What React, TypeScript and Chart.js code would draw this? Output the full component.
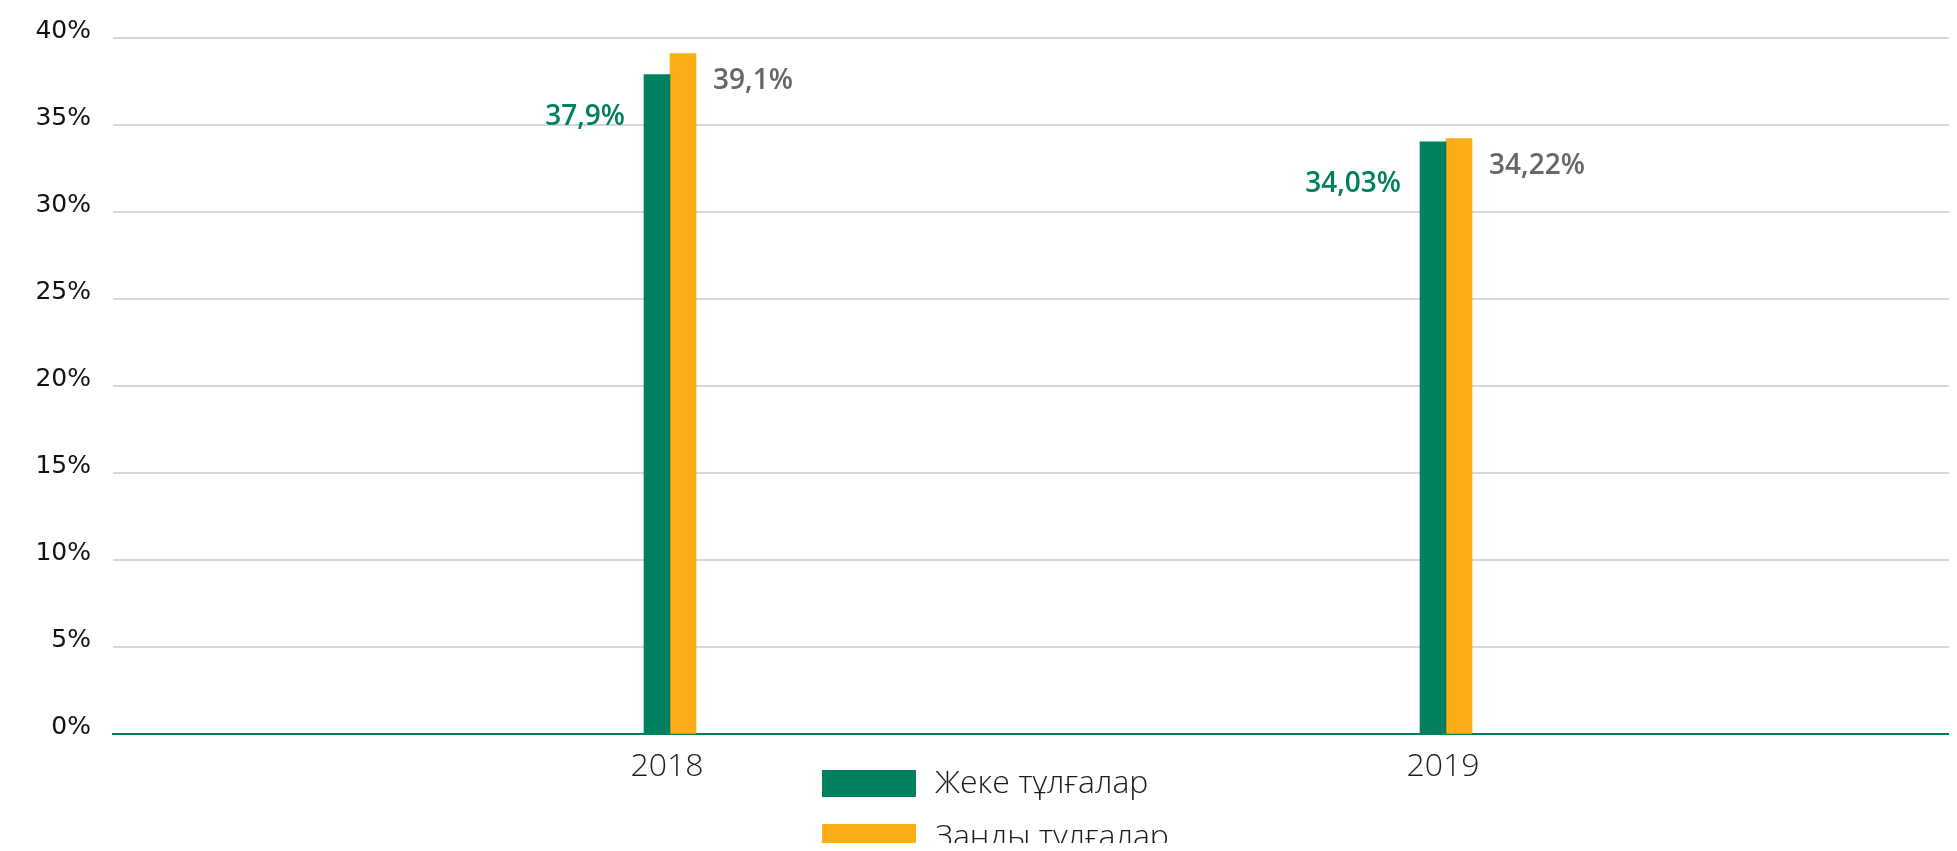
import React, { useEffect, useRef } from "react";
import { Chart, registerables } from "chart.js";

Chart.register(...registerables);

// ---- data ----
const categories = ["2018", "2019"];
const seriesNames = ["Жеке тұлғалар", "Заңды тұлғалар"];
const individualValues = [37.9, 34.03];
const legalValues = [39.1, 34.22];
const yMin = 0;
const yMax = 40;
const yStep = 5;

// ---- style ----
const GREEN = "#00805E";
const ORANGE = "#FBAE17";
const LABEL_GRAY = "#666666";
const W = 1949;
const H = 843;

const valueLabelsPlugin = {
  id: "valueLabels",
  afterDatasetsDraw(chart: any) {
    const ctx = chart.ctx;
    ctx.save();
    ctx.font = "600 28px 'Open Sans'";
    ctx.textBaseline = "middle";
    chart.data.datasets.forEach((ds: any, di: number) => {
      const meta = chart.getDatasetMeta(di);
      meta.data.forEach((el: any, i: number) => {
        const v = ds.data[i].y;
        const text = String(v).replace(".", ",") + "%";
        const { x, y, width } = el.getProps(["x", "y", "width"], true);
        if (di === 0) {
          ctx.fillStyle = GREEN;
          ctx.textAlign = "right";
          ctx.fillText(text, x - width / 2 - 19, y + 42);
        } else {
          ctx.fillStyle = LABEL_GRAY;
          ctx.textAlign = "left";
          ctx.fillText(text, x + width / 2 + 17, y + 27);
        }
      });
    });
    ctx.restore();
  },
};

const stackedLegendPlugin = {
  id: "stackedLegend",
  afterDraw(chart: any, _args: any, opts: any) {
    const ctx = chart.ctx;
    ctx.save();
    ctx.font = "300 32px 'Open Sans'";
    ctx.textBaseline = "middle";
    ctx.textAlign = "left";
    chart.data.datasets.forEach((ds: any, i: number) => {
      const top = opts.top + i * opts.rowGap;
      ctx.fillStyle = ds.backgroundColor;
      ctx.fillRect(opts.left, top, opts.boxWidth, opts.boxHeight);
      ctx.fillStyle = "#1a1a1a";
      ctx.fillText(ds.label, opts.left + opts.boxWidth + opts.textGap, top + opts.boxHeight / 2);
    });
    ctx.restore();
  },
};

export default function App() {
  const canvasRef = useRef<HTMLCanvasElement | null>(null);

  useEffect(() => {
    if (!canvasRef.current) return;
    const chart = new Chart(canvasRef.current, {
      type: "bar",
      data: {
        datasets: [
          {
            label: seriesNames[0],
            data: individualValues.map((v, i) => ({ x: i, y: v })),
            backgroundColor: GREEN,
            barThickness: 26,
          },
          {
            label: seriesNames[1],
            data: legalValues.map((v, i) => ({ x: i, y: v })),
            backgroundColor: ORANGE,
            barThickness: 26,
          },
        ],
      },
      options: {
        animation: false,
        responsive: false,
        devicePixelRatio: 1,
        layout: { padding: { top: 30, bottom: 56.7, left: 0, right: 0 } },
        plugins: {
          legend: { display: false },
          tooltip: { enabled: false },
          stackedLegend: { left: 814, top: 762, rowGap: 54, boxWidth: 94, boxHeight: 27, textGap: 19 },
        } as any,
        scales: {
          x: {
            type: "linear",
            offset: false,
            min: -0.7178,
            max: 1.6585,
            grid: { display: false },
            border: { display: true, color: GREEN, width: 2 },
            afterBuildTicks: (s: any) => {
              s.ticks = categories.map((_, i) => ({ value: i }));
            },
            afterFit: (s: any) => {
              s.height = 60;
            },
            ticks: {
              autoSkip: false,
              maxRotation: 0,
              padding: 5,
              labelOffset: -3,
              color: "#1e1e1e",
              font: { family: "'Open Sans'", size: 32, weight: "300" as any },
              callback: (v: any) => categories[v] ?? "",
            },
          },
          y: {
            min: yMin,
            max: yMax,
            grid: {
              color: (c: any) => (c.tick && c.tick.value === 0 ? GREEN : "#d6d6d6"),
              lineWidth: 2,
              drawTicks: false,
            },
            border: { display: false },
            afterFit: (s: any) => {
              s.width = 105;
            },
            ticks: {
              stepSize: yStep,
              padding: 22,
              labelOffset: -7,
              color: "#111111",
              font: { family: "'DejaVu Sans'", size: 25, lineHeight: 0.5 },
              callback: (v: any) => v + "%",
            },
          },
        },
      } as any,
      plugins: [valueLabelsPlugin, stackedLegendPlugin],
    });
    return () => chart.destroy();
  }, []);

  return (
    <div style={{ width: W, height: H, overflow: "hidden", marginBottom: -8 }}>
      <canvas ref={canvasRef} width={W} height={H} style={{ display: "block", width: W, height: H }} />
    </div>
  );
}
